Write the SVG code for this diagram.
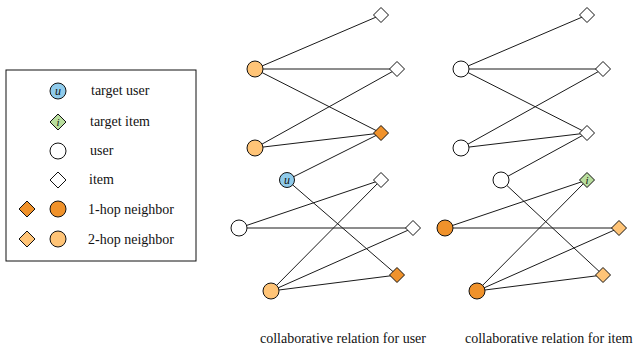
<svg xmlns="http://www.w3.org/2000/svg" width="635" height="347" viewBox="0 0 635 347">
<style>
text{font-family:"Liberation Serif","Times New Roman",serif;fill:#111}
.lbl{font-size:14px}
.sym{font-size:12px;font-style:italic;text-anchor:middle}
.w{fill:#fff;stroke:#111;stroke-width:1}
.one{fill:#F0922B;stroke:#111;stroke-width:1}
.two{fill:#FFC477;stroke:#111;stroke-width:1}
.tu{fill:#8FCBEB;stroke:#111;stroke-width:1}
.ti{fill:#B9DE9E;stroke:#111;stroke-width:1}
#edges line{stroke:#1a1a1a;stroke-width:1}
</style>
<defs>
<path id="dia" d="M0,-7.5 L7.5,0 L0,7.5 L-7.5,0 Z"/>
<path id="diaL" d="M0,-8 L8,0 L0,8 L-8,0 Z"/>
</defs>
<g id="legend">
<rect x="6" y="70" width="190" height="191" fill="#fff" stroke="#111" stroke-width="1"/>
<circle class="tu" cx="58" cy="91" r="8"/><text class="sym" x="58" y="95">u</text>
<text class="lbl" x="91" y="95">target user</text>
<use href="#diaL" class="ti" x="58" y="122"/><text class="sym" x="58" y="126" style="font-size:11px">i</text>
<text class="lbl" x="90" y="126">target item</text>
<circle class="w" cx="58" cy="151" r="8"/>
<text class="lbl" x="90" y="155">user</text>
<use href="#diaL" class="w" x="58" y="180"/>
<text class="lbl" x="89" y="184">item</text>
<use href="#diaL" class="one" x="27" y="209"/><circle class="one" cx="58" cy="209" r="8"/>
<text class="lbl" x="88" y="214">1-hop neighbor</text>
<use href="#diaL" class="two" x="27" y="239"/><circle class="two" cx="58" cy="239" r="8"/>
<text class="lbl" x="88" y="244">2-hop neighbor</text>
</g>
<g id="edges">
<line x1="255" y1="69" x2="381" y2="15"/>
<line x1="255" y1="69" x2="397" y2="69"/>
<line x1="255" y1="69" x2="381" y2="133"/>
<line x1="255" y1="148" x2="397" y2="69"/>
<line x1="255" y1="148" x2="381" y2="133"/>
<line x1="287" y1="180" x2="381" y2="133"/>
<line x1="287" y1="180" x2="397" y2="275"/>
<line x1="239" y1="228" x2="381" y2="180"/>
<line x1="239" y1="228" x2="413" y2="228"/>
<line x1="271" y1="291" x2="381" y2="180"/>
<line x1="271" y1="291" x2="413" y2="228"/>
<line x1="271" y1="291" x2="397" y2="275"/>
<line x1="461" y1="69" x2="587" y2="15"/>
<line x1="461" y1="69" x2="603" y2="69"/>
<line x1="461" y1="69" x2="587" y2="133"/>
<line x1="461" y1="148" x2="603" y2="69"/>
<line x1="461" y1="148" x2="587" y2="133"/>
<line x1="501" y1="180" x2="587" y2="133"/>
<line x1="501" y1="180" x2="603" y2="275"/>
<line x1="445" y1="228" x2="587" y2="180"/>
<line x1="445" y1="228" x2="619" y2="228"/>
<line x1="477" y1="291" x2="587" y2="180"/>
<line x1="477" y1="291" x2="619" y2="228"/>
<line x1="477" y1="291" x2="603" y2="275"/>
</g>
<g id="uL1"><circle class="two" cx="255" cy="69" r="8"/></g>
<g id="uL2"><circle class="two" cx="255" cy="148" r="8"/></g>
<g id="uL3"><circle class="tu" cx="287" cy="180" r="7.5"/><text class="sym" x="287" y="184">u</text></g>
<g id="uL4"><circle class="w" cx="239" cy="228" r="8"/></g>
<g id="uL5"><circle class="two" cx="271" cy="291" r="8"/></g>
<g id="iL1"><use href="#dia" class="w" x="381" y="15"/></g>
<g id="iL2"><use href="#dia" class="w" x="397" y="69"/></g>
<g id="iL3"><use href="#dia" class="one" x="381" y="133"/></g>
<g id="iL4"><use href="#dia" class="w" x="381" y="180"/></g>
<g id="iL5"><use href="#dia" class="w" x="413" y="228"/></g>
<g id="iL6"><use href="#dia" class="one" x="397" y="275"/></g>
<g id="uR1"><circle class="w" cx="461" cy="69" r="8"/></g>
<g id="uR2"><circle class="w" cx="461" cy="148" r="8"/></g>
<g id="uR3"><circle class="w" cx="501" cy="180" r="8"/></g>
<g id="uR4"><circle class="one" cx="445" cy="228" r="8"/></g>
<g id="uR5"><circle class="one" cx="477" cy="291" r="8"/></g>
<g id="iR1"><use href="#dia" class="w" x="587" y="15"/></g>
<g id="iR2"><use href="#dia" class="w" x="603" y="69"/></g>
<g id="iR3"><use href="#dia" class="w" x="587" y="133"/></g>
<g id="iR4"><use href="#dia" class="ti" x="587" y="180"/><text class="sym" x="587" y="184" style="font-size:11px">i</text></g>
<g id="iR5"><use href="#dia" class="two" x="619" y="228"/></g>
<g id="iR6"><use href="#dia" class="two" x="603" y="275"/></g>
<g id="captions">
<text class="lbl" x="260" y="343">collaborative relation for user</text>
<text class="lbl" x="465" y="343">collaborative relation for item</text>
</g>
</svg>
